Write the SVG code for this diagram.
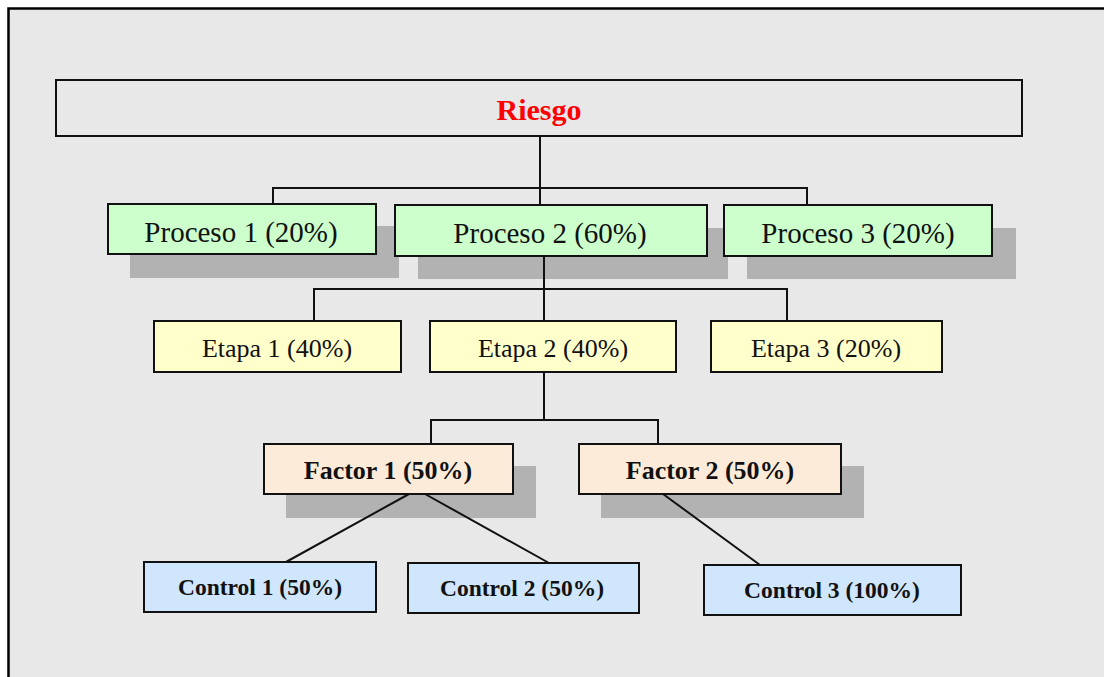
<svg xmlns="http://www.w3.org/2000/svg" width="1104" height="677" viewBox="0 0 1104 677">
<style>
.box{stroke:#111;stroke-width:2}
.sh{fill:#b2b2b2}
.pr{fill:#ccffcc}
.et{fill:#ffffcc}
.fa{fill:#fdebd9}
.co{fill:#cfe6fc}
.t{font-family:"Liberation Serif","Times New Roman",serif;text-anchor:middle;fill:#111}
.b{font-weight:bold}
.ln{stroke:#111;stroke-width:2;fill:none}
</style>
<rect x="0" y="0" width="1104" height="677" fill="#fff"/>
<rect x="8.5" y="8.5" width="1200" height="800" fill="#e8e8e8" stroke="#000" stroke-width="2.5"/>
<g id="shadows">
<rect class="sh" x="130" y="226" width="269" height="52"/>
<rect class="sh" x="418" y="228" width="310" height="51"/>
<rect class="sh" x="747" y="228" width="269" height="51"/>
<rect class="sh" x="286" y="466" width="250" height="52"/>
<rect class="sh" x="601" y="466" width="263" height="52"/>
</g>
<g id="connectors">
<path class="ln" d="M540 136V205M273 205V188H807V205"/>
<path class="ln" d="M544 256V321M314 321V289H787V321"/>
<path class="ln" d="M544 372V420M431 444V420H658V444"/>
<path class="ln" d="M409 494L286 562M425 494L549 563M663 494L760 565"/>
</g>
<g id="riesgo">
<rect class="box" x="56" y="80" width="966" height="56" fill="#e8e8e8"/>
<text class="t b" x="539" y="120" font-size="30" style="fill:#ff0000">Riesgo</text>
</g>
<g id="proceso1">
<rect class="box pr" x="108" y="204" width="268" height="50"/>
<text class="t" x="241" y="242" font-size="29">Proceso 1 (20%)</text>
</g>
<g id="proceso2">
<rect class="box pr" x="395" y="205" width="312" height="51"/>
<text class="t" x="550" y="243" font-size="29">Proceso 2 (60%)</text>
</g>
<g id="proceso3">
<rect class="box pr" x="724" y="205" width="268" height="51"/>
<text class="t" x="858" y="243" font-size="29">Proceso 3 (20%)</text>
</g>
<g id="etapa1">
<rect class="box et" x="154" y="321" width="247" height="51"/>
<text class="t" x="277" y="357" font-size="26">Etapa 1 (40%)</text>
</g>
<g id="etapa2">
<rect class="box et" x="430" y="321" width="246" height="51"/>
<text class="t" x="553" y="357" font-size="26">Etapa 2 (40%)</text>
</g>
<g id="etapa3">
<rect class="box et" x="711" y="321" width="231" height="51"/>
<text class="t" x="826" y="357" font-size="26">Etapa 3 (20%)</text>
</g>
<g id="factor1">
<rect class="box fa" x="264" y="444" width="249" height="50"/>
<text class="t b" x="388" y="479" font-size="26">Factor 1 (50%)</text>
</g>
<g id="factor2">
<rect class="box fa" x="579" y="444" width="262" height="50"/>
<text class="t b" x="710" y="479" font-size="26">Factor 2 (50%)</text>
</g>
<g id="control1">
<rect class="box co" x="144" y="562" width="232" height="50"/>
<text class="t b" x="260" y="595" font-size="23.5">Control 1 (50%)</text>
</g>
<g id="control2">
<rect class="box co" x="408" y="563" width="231" height="50"/>
<text class="t b" x="522" y="596" font-size="23.5">Control 2 (50%)</text>
</g>
<g id="control3">
<rect class="box co" x="704" y="565" width="257" height="50"/>
<text class="t b" x="832" y="598" font-size="23.5">Control 3 (100%)</text>
</g>
</svg>
